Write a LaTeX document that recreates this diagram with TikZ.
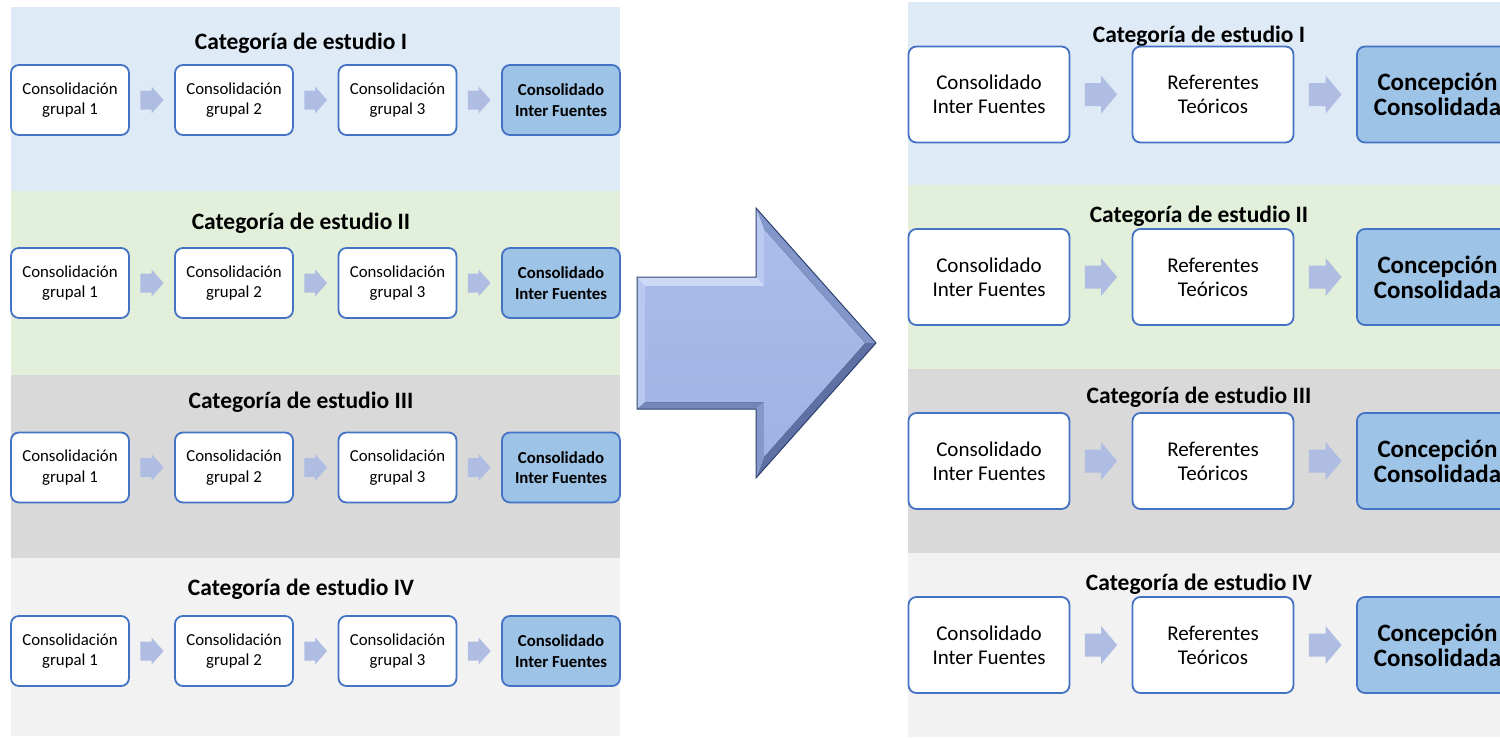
\documentclass[tikz,border=0pt]{standalone}
\usepackage{fontspec}
\setmainfont{Carlito}
\usetikzlibrary{calc}
\definecolor{bandA}{HTML}{DEEAF6}
\definecolor{bandB}{HTML}{E2EFDA}
\definecolor{bandC}{HTML}{D9D9D9}
\definecolor{bandD}{HTML}{F2F2F2}
\definecolor{boxline}{HTML}{4472C4}
\definecolor{hlfill}{HTML}{9DC3E6}
\definecolor{arrfill}{HTML}{B0BDE3}
\definecolor{bigin}{HTML}{ABBDEB}
\definecolor{bigin2}{HTML}{9FB2E4}
\definecolor{bigline}{HTML}{2F4470}
\definecolor{bvTop}{HTML}{CCD9F7}
\definecolor{bvLeft}{HTML}{B8C8F0}
\definecolor{bvBot}{HTML}{7486B8}
\definecolor{bvHtop}{HTML}{BACAF1}
\definecolor{bvUp}{HTML}{8296C9}
\definecolor{bvLow}{HTML}{5E70A4}
\definecolor{bvHbot}{HTML}{8698CA}
\tikzset{
  box/.style={draw=boxline, line width=1.8pt, rounded corners=8pt, fill=white,
    align=center, inner sep=0pt},
  lbox/.style={box, minimum width=118pt, minimum height=70pt,
    font=\fontsize{16.8}{20.5}\selectfont},
  lhl/.style={lbox, fill=hlfill, font=\fontsize{16.8}{20.5}\selectfont\bfseries},
  rbox/.style={box, minimum width=161pt, minimum height=96pt,
    font=\fontsize{21}{24}\selectfont},
  rhl/.style={rbox, fill=hlfill, font=\fontsize{25}{25}\selectfont\bfseries},
  cattitle/.style={font=\fontsize{23.5}{27}\selectfont\bfseries, anchor=base, inner sep=0pt},
  smallarr/.style={fill=arrfill, draw=none},
}
\newcommand\blkarr[6]{%
  \coordinate (bs) at ($(#1.east)+(#3,0)$);
  \coordinate (be) at ($(#2.west)+(-#3,0)$);
  \fill[smallarr] ($(bs)+(0,-#4)$) -- ($(be)+(-#6,-#4)$) -- ($(be)+(-#6,-#5)$) -- (be)
    -- ($(be)+(-#6,#5)$) -- ($(be)+(-#6,#4)$) -- ($(bs)+(0,#4)$) -- cycle;}
\begin{document}
\begin{tikzpicture}[x=1pt,y=-1pt]
\useasboundingbox (0,0) rectangle (1500,737);
\clip (0,0) rectangle (1500,737);
% background bands
\fill[bandA] (11,7) rectangle (620,191);
\fill[bandB] (11,191) rectangle (620,375);
\fill[bandC] (11,375) rectangle (620,558);
\fill[bandD] (11,558) rectangle (620,736);
\fill[bandA] (908,2) rectangle (1500,185);
\fill[bandB] (908,185) rectangle (1500,369);
\fill[bandC] (908,369) rectangle (1500,553);
\fill[bandD] (908,553) rectangle (1500,737);
% left panel
\foreach \r/\yc/\tb/\rom in {1/100/49/I, 2/283/229/II, 3/467.5/408/III, 4/651/595/IV}{
  \node[cattitle] (LT\r) at (301,\tb) {Categoría de estudio \rom};
  \node[lbox] (L\r a) at (70,\yc) {Consolidación\\grupal 1};
  \node[lbox] (L\r b) at (234,\yc) {Consolidación\\grupal 2};
  \node[lbox] (L\r c) at (397.5,\yc) {Consolidación\\grupal 3};
  \node[lhl]  (L\r d) at (561,\yc) {Consolidado\\Inter Fuentes};
  \blkarr{L\r a}{L\r b}{10.5}{9.5}{13.5}{12}
  \blkarr{L\r b}{L\r c}{10.5}{9.5}{13.5}{12}
  \blkarr{L\r c}{L\r d}{10.5}{9.5}{13.5}{12}
}
% right panel
\foreach \r/\yc/\tb/\rom in {1/94.5/42/I, 2/277/222/II, 3/461/403/III, 4/645/590/IV}{
  \node[cattitle] (RT\r) at (1199,\tb) {Categoría de estudio \rom};
  \node[rbox] (R\r a) at (989,\yc) {Consolidado\\Inter Fuentes};
  \node[rbox] (R\r b) at (1213,\yc) {Referentes\\Teóricos};
  \node[rhl]  (R\r c) at (1437.5,\yc) {Concepción\\Consolidada};
  \blkarr{R\r a}{R\r b}{14.5}{11.5}{19}{16}
  \blkarr{R\r b}{R\r c}{14.5}{11.5}{19}{16}
}
% big bevelled arrow
\coordinate (o1) at (637,277);  \coordinate (i1) at (645,286);
\coordinate (o2) at (756,277);  \coordinate (i2) at (764,286);
\coordinate (o3) at (756,208);  \coordinate (i3) at (764,229);
\coordinate (o4) at (876,343);  \coordinate (i4) at (865,343);
\coordinate (o5) at (756,478);  \coordinate (i5) at (764,457);
\coordinate (o6) at (756,409);  \coordinate (i6) at (764,402);
\coordinate (o7) at (637,409);  \coordinate (i7) at (645,402);
\fill[bvTop] (o1) -- (o2) -- (i2) -- (i1) -- cycle;
\fill[bvLeft] (o1) -- (i1) -- (i7) -- (o7) -- cycle;
\fill[bvBot] (o7) -- (i7) -- (i6) -- (o6) -- cycle;
\fill[bvHtop] (o2) -- (o3) -- (i3) -- (i2) -- cycle;
\fill[bvUp] (o3) -- (o4) -- (i4) -- (i3) -- cycle;
\fill[bvLow] (o4) -- (o5) -- (i5) -- (i4) -- cycle;
\fill[bvHbot] (o5) -- (o6) -- (i6) -- (i5) -- cycle;
\fill[top color=bigin, bottom color=bigin2] (i1) -- (i2) -- (i3) -- (i4) -- (i5) -- (i6) -- (i7) -- cycle;
\draw[bigline, line width=1pt, line join=miter] (o1) -- (o2) -- (o3) -- (o4) -- (o5) -- (o6) -- (o7) -- cycle;
\end{tikzpicture}
\end{document}
